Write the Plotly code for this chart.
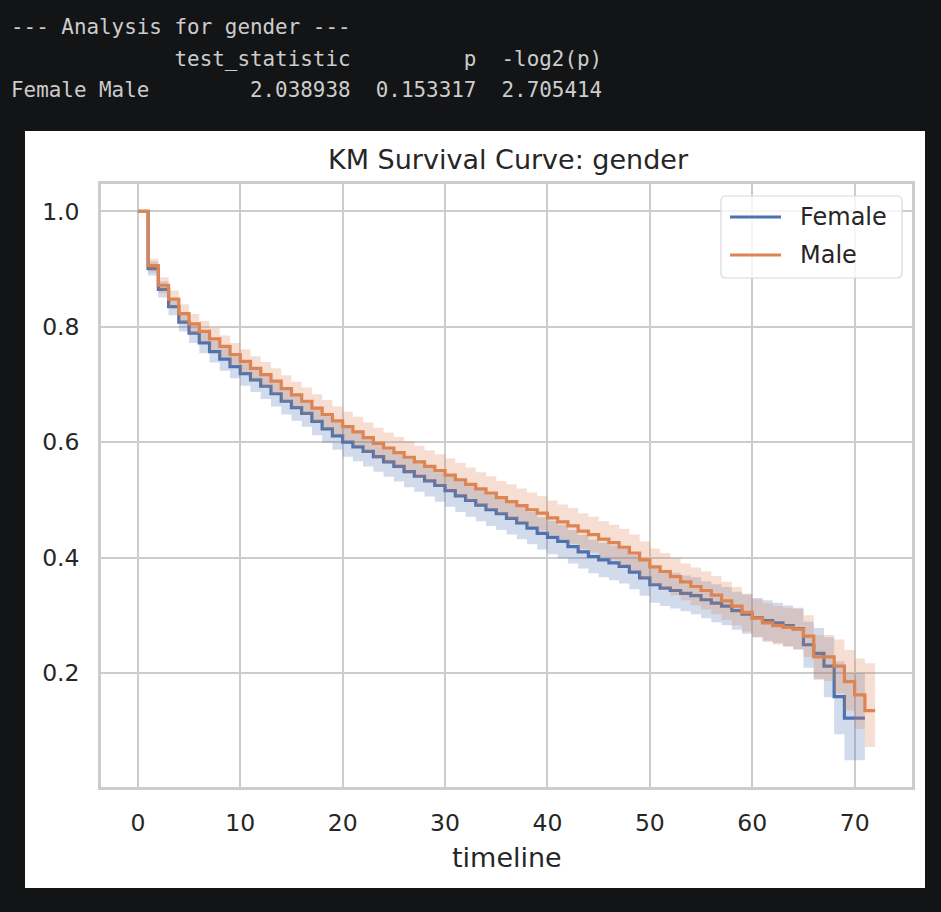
import plotly.graph_objects as go

# ---------------- data ----------------
female_t = list(range(0, 72))
female_s = [1.000, 0.901, 0.865, 0.835, 0.808, 0.789, 0.772, 0.757, 0.744, 0.731,
            0.719, 0.708, 0.697, 0.684, 0.671, 0.660, 0.650, 0.636, 0.623, 0.611,
            0.600, 0.592, 0.584, 0.575, 0.566, 0.558, 0.549, 0.541, 0.533, 0.525,
            0.516, 0.507, 0.499, 0.491, 0.483, 0.476, 0.468, 0.460, 0.451, 0.442,
            0.435, 0.428, 0.419, 0.410, 0.402, 0.396, 0.391, 0.385, 0.375, 0.365,
            0.353, 0.347, 0.343, 0.338, 0.334, 0.327, 0.321, 0.316, 0.308, 0.302,
            0.296, 0.291, 0.287, 0.282, 0.277, 0.249, 0.234, 0.212, 0.159, 0.122,
            0.122, 0.122]
female_lo = [1.000, 0.889, 0.851, 0.820, 0.792, 0.772, 0.754, 0.738, 0.724, 0.711,
             0.698, 0.687, 0.675, 0.662, 0.648, 0.637, 0.627, 0.612, 0.599, 0.587,
             0.575, 0.567, 0.558, 0.549, 0.540, 0.532, 0.522, 0.514, 0.506, 0.497,
             0.488, 0.479, 0.471, 0.463, 0.455, 0.448, 0.440, 0.432, 0.423, 0.414,
             0.406, 0.399, 0.390, 0.381, 0.373, 0.366, 0.361, 0.355, 0.345, 0.334,
             0.322, 0.316, 0.312, 0.307, 0.302, 0.295, 0.288, 0.283, 0.275, 0.268,
             0.262, 0.256, 0.252, 0.247, 0.241, 0.209, 0.190, 0.158, 0.094, 0.049,
             0.049, 0.049]
female_hi = [1.000, 0.913, 0.879, 0.850, 0.824, 0.806, 0.790, 0.776, 0.764, 0.751,
             0.740, 0.729, 0.719, 0.706, 0.694, 0.683, 0.673, 0.660, 0.647, 0.635,
             0.625, 0.617, 0.610, 0.601, 0.592, 0.584, 0.576, 0.568, 0.560, 0.553,
             0.544, 0.535, 0.527, 0.519, 0.511, 0.504, 0.496, 0.488, 0.479, 0.470,
             0.464, 0.457, 0.448, 0.439, 0.431, 0.426, 0.421, 0.415, 0.405, 0.396,
             0.384, 0.378, 0.374, 0.369, 0.366, 0.359, 0.354, 0.349, 0.341, 0.336,
             0.330, 0.326, 0.322, 0.317, 0.313, 0.289, 0.278, 0.262, 0.220, 0.200,
             0.200, 0.200]

male_t = list(range(0, 73))
male_s = [1.000, 0.906, 0.872, 0.848, 0.823, 0.805, 0.792, 0.779, 0.766, 0.752,
          0.740, 0.728, 0.717, 0.706, 0.693, 0.682, 0.671, 0.659, 0.648, 0.637,
          0.627, 0.618, 0.608, 0.598, 0.590, 0.582, 0.574, 0.566, 0.558, 0.551,
          0.543, 0.535, 0.527, 0.519, 0.512, 0.504, 0.497, 0.490, 0.483, 0.477,
          0.469, 0.462, 0.455, 0.446, 0.440, 0.432, 0.426, 0.418, 0.408, 0.396,
          0.384, 0.376, 0.367, 0.358, 0.350, 0.343, 0.335, 0.325, 0.316, 0.305,
          0.295, 0.287, 0.282, 0.279, 0.276, 0.264, 0.228, 0.228, 0.212, 0.185,
          0.162, 0.135, 0.135]
male_lo = [1.000, 0.894, 0.858, 0.833, 0.807, 0.788, 0.774, 0.760, 0.747, 0.732,
           0.719, 0.707, 0.695, 0.684, 0.670, 0.659, 0.647, 0.635, 0.623, 0.612,
           0.601, 0.592, 0.582, 0.571, 0.563, 0.555, 0.546, 0.538, 0.530, 0.523,
           0.514, 0.506, 0.498, 0.490, 0.483, 0.475, 0.467, 0.460, 0.453, 0.447,
           0.439, 0.432, 0.424, 0.415, 0.409, 0.401, 0.395, 0.386, 0.376, 0.364,
           0.352, 0.344, 0.335, 0.326, 0.317, 0.310, 0.302, 0.292, 0.283, 0.272,
           0.262, 0.254, 0.249, 0.245, 0.241, 0.228, 0.188, 0.186, 0.165, 0.135,
           0.103, 0.072, 0.072]
male_hi = [1.000, 0.918, 0.886, 0.863, 0.839, 0.822, 0.810, 0.798, 0.785, 0.772,
           0.761, 0.749, 0.739, 0.728, 0.716, 0.705, 0.695, 0.683, 0.673, 0.662,
           0.653, 0.644, 0.634, 0.625, 0.617, 0.609, 0.602, 0.594, 0.586, 0.579,
           0.572, 0.564, 0.556, 0.548, 0.541, 0.533, 0.527, 0.520, 0.513, 0.507,
           0.499, 0.492, 0.486, 0.477, 0.471, 0.463, 0.457, 0.450, 0.440, 0.428,
           0.416, 0.408, 0.399, 0.390, 0.383, 0.376, 0.368, 0.358, 0.349, 0.338,
           0.328, 0.321, 0.316, 0.313, 0.311, 0.300, 0.266, 0.266, 0.258, 0.240,
           0.225, 0.217, 0.217]

x_ticks = [0, 10, 20, 30, 40, 50, 60, 70]
y_ticks = [0.2, 0.4, 0.6, 0.8, 1.0]
group_names = ["Female", "Male"]

header_lines = [
    "--- Analysis for gender ---",
    "             test_statistic         p  -log2(p)",
    "Female Male        2.038938  0.153317  2.705414",
]

# ---------------- figure ----------------
BLUE = "#4C72B0"
ORANGE = "#DD8452"
COLORS = [BLUE, ORANGE]
fig = go.Figure()

def add_group(t, s, lo, hi, name, color, band):
    fig.add_trace(go.Scatter(x=t, y=lo, mode="lines", line=dict(width=0, shape="hv", color=band),
                             showlegend=False, hoverinfo="skip"))
    fig.add_trace(go.Scatter(x=t, y=hi, mode="lines", line=dict(width=0, shape="hv", color=band),
                             fill="tonexty", fillcolor=band, showlegend=False, hoverinfo="skip"))
    fig.add_trace(go.Scatter(x=t, y=s, mode="lines", name=name, showlegend=False,
                             line=dict(width=3.2, shape="hv", color=color)))

add_group(female_t, female_s, female_lo, female_hi, group_names[0], BLUE, "rgba(76,114,176,0.26)")
add_group(male_t, male_s, male_lo, male_hi, group_names[1], ORANGE, "rgba(221,132,82,0.26)")

L, R, T, B = 101, 29, 184, 125
W, H = 941, 912
pw, ph = W - L - R, H - T - B

def px2x(px):
    return (px - L) / pw

def py2y(py):
    return (H - B - py) / ph

fig.add_shape(type="rect", xref="paper", yref="paper",
              x0=px2x(25), x1=px2x(925), y0=py2y(888), y1=py2y(131),
              fillcolor="white", line=dict(width=0), layer="below")

# legend box (rounded) drawn in pixel-derived paper coords
lx0, lx1, ly0, ly1, rr = 721, 902, 196, 278, 5
def P(px, py):
    return f"{px2x(px)},{py2y(py)}"
path = (f"M {P(lx0 + rr, ly0)} L {P(lx1 - rr, ly0)} Q {P(lx1, ly0)} {P(lx1, ly0 + rr)} "
        f"L {P(lx1, ly1 - rr)} Q {P(lx1, ly1)} {P(lx1 - rr, ly1)} L {P(lx0 + rr, ly1)} "
        f"Q {P(lx0, ly1)} {P(lx0, ly1 - rr)} L {P(lx0, ly0 + rr)} Q {P(lx0, ly0)} {P(lx0 + rr, ly0)} Z")
fig.add_shape(type="path", xref="paper", yref="paper", path=path,
              fillcolor="rgba(255,255,255,0.8)", line=dict(color="#d9d9d9", width=1.2))
for i, (nm, col) in enumerate(zip(group_names, COLORS)):
    yy = [217, 255][i]
    fig.add_shape(type="line", xref="paper", yref="paper", x0=px2x(730), x1=px2x(781),
                  y0=py2y(yy), y1=py2y(yy), line=dict(color=col, width=3.2))
    fig.add_annotation(xref="paper", yref="paper", x=px2x(798), y=py2y(yy), xanchor="left",
                       yanchor="middle", showarrow=False, text=nm,
                       font=dict(family="DejaVu Sans", size=24, color="#262626"))

mono = "DejaVu Sans Mono"
for i, line in enumerate(header_lines):
    fig.add_annotation(xref="paper", yref="paper", x=px2x(9), y=py2y([27, 59, 90][i]),
                       xanchor="left", yanchor="middle", showarrow=False,
                       text=line.replace(" ", "\u00a0"),
                       font=dict(family=mono, size=20.9, color="#cccccc"))

fig.add_annotation(xref="paper", yref="paper", x=px2x(509), y=py2y(160), xanchor="center",
                   yanchor="middle", showarrow=False, text="KM Survival Curve: gender",
                   font=dict(family="DejaVu Sans", size=27, color="#262626"))
fig.add_annotation(xref="paper", yref="paper", x=px2x(507), y=py2y(857), xanchor="center",
                   yanchor="middle", showarrow=False, text="timeline",
                   font=dict(family="DejaVu Sans", size=27, color="#262626"))

fig.update_layout(
    width=W, height=H,
    margin=dict(l=L, r=R, t=T, b=B),
    paper_bgcolor="#131416",
    plot_bgcolor="white",
    showlegend=False,
)
fig.update_xaxes(range=[-3.6, 75.6], tickvals=x_ticks, showgrid=True, gridcolor="#cccccc",
                 gridwidth=2, zeroline=False, showline=True, linecolor="#cccccc", linewidth=2.5,
                 mirror=True, ticks="", ticklabelstandoff=13,
                 tickfont=dict(family="DejaVu Sans", size=23.5, color="#262626"))
fig.update_yaxes(range=[0.0025, 1.0475], tickvals=y_ticks, tickformat=".1f", showgrid=True,
                 gridcolor="#cccccc", gridwidth=2, zeroline=False, showline=True,
                 linecolor="#cccccc", linewidth=2.5, mirror=True, ticks="", ticklabelstandoff=14,
                 tickfont=dict(family="DejaVu Sans", size=23.5, color="#262626"))

fig.write_html("out.html")
